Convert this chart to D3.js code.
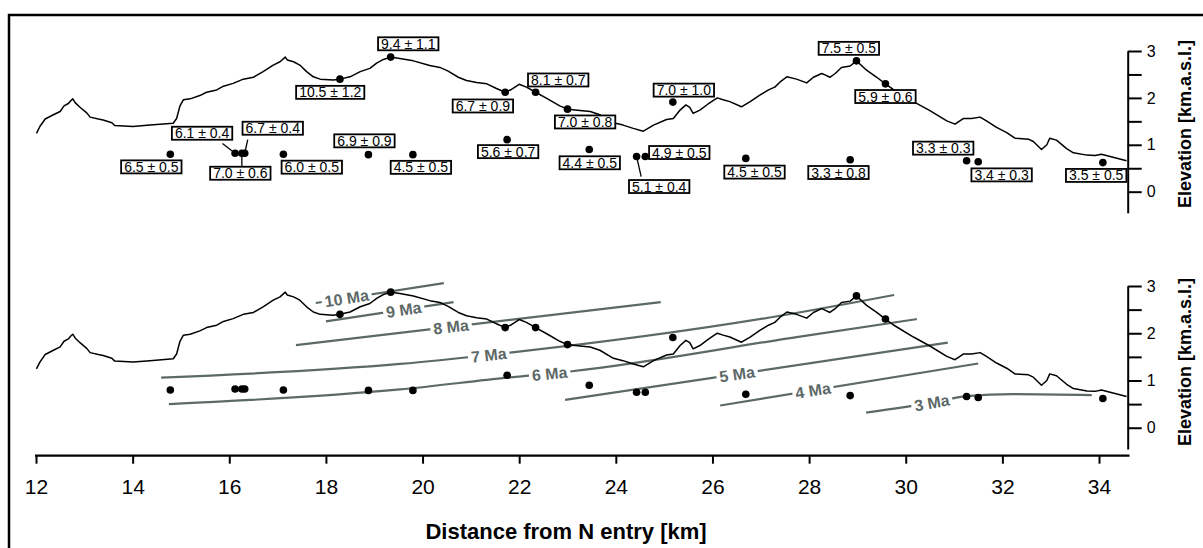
<!DOCTYPE html>
<html><head><meta charset="utf-8">
<script src="https://cdn.jsdelivr.net/npm/d3@7"></script>
<style>
html,body{margin:0;padding:0;background:#fff;}
svg{display:block;font-family:"Liberation Sans", Arial, Helvetica, sans-serif;}
</style></head><body>
<svg id="chart" width="1203" height="548"></svg>
<script>
// ---------- DATA ----------
const profileDist = [12.01,12.08,12.19,12.36,12.50,12.58,12.67,12.72,12.76,12.81,
 12.91,13.05,13.12,13.29,13.39,13.57,13.63,14.01,14.36,14.84,
 14.91,14.98,15.05,15.19,15.39,15.53,15.74,15.88,16.08,16.29,
 16.50,16.70,16.91,17.05,17.16,17.20,17.33,17.46,17.60,17.74,
 17.88,18.15,18.29,18.50,18.71,18.91,19.05,19.19,19.34,19.53,
 19.81,20.15,20.36,20.53,20.74,20.91,21.12,21.33,21.53,21.71,
 21.84,22.00,22.15,22.34,22.57,22.84,23.00,23.26,23.47,23.67,
 23.95,24.15,24.36,24.57,24.78,25.05,25.19,25.33,25.45,25.53,
 25.60,25.74,25.91,26.10,26.22,26.36,26.60,26.78,26.98,27.16,
 27.29,27.40,27.54,27.74,27.95,28.09,28.26,28.33,28.43,28.54,
 28.67,28.85,28.98,29.19,29.40,29.58,29.74,30.16,30.50,30.85,
 31.02,31.19,31.36,31.54,31.67,31.88,32.09,32.26,32.54,32.64,
 32.81,32.92,32.98,33.12,33.33,33.47,33.75,33.92,34.05,34.23,
 34.57];
const profileElev = [1.245,1.39,1.55,1.64,1.71,1.83,1.88,1.94,1.98,1.90,
 1.80,1.68,1.59,1.55,1.53,1.47,1.41,1.39,1.42,1.46,
 1.56,1.83,1.96,1.98,2.05,2.12,2.17,2.25,2.31,2.40,
 2.44,2.56,2.70,2.77,2.87,2.81,2.77,2.70,2.56,2.45,
 2.40,2.38,2.40,2.45,2.56,2.63,2.74,2.82,2.87,2.84,
 2.79,2.69,2.65,2.57,2.44,2.37,2.33,2.30,2.20,2.12,
 2.18,2.29,2.23,2.12,1.99,1.83,1.76,1.73,1.71,1.64,
 1.47,1.42,1.35,1.29,1.42,1.54,1.56,1.74,1.85,1.80,
 1.67,1.74,1.87,2.00,1.96,1.92,1.81,1.92,2.06,2.17,
 2.23,2.34,2.45,2.40,2.32,2.44,2.52,2.49,2.44,2.52,
 2.65,2.68,2.79,2.59,2.44,2.30,2.18,1.92,1.73,1.51,
 1.44,1.56,1.56,1.59,1.51,1.37,1.26,1.14,1.12,1.07,
 0.90,1.00,1.14,1.10,0.92,0.83,0.78,0.77,0.80,0.75,
 0.66];

const sampleDist = [14.78,16.12,16.26,16.32,17.12,18.29,18.88,19.34,19.80,21.71,21.75,22.34,
                    23.00,23.45,24.43,24.61,25.18,26.69,28.85,28.98,29.58,31.26,31.50,34.08];
const sampleElev = [0.80,0.82,0.82,0.82,0.80,2.40,0.79,2.87,0.79,2.12,1.11,2.12,
                    1.76,0.90,0.75,0.75,1.91,0.71,0.68,2.79,2.30,0.66,0.64,0.62];
const sampleAge  = [6.5,6.1,7.0,6.7,6.0,10.5,6.9,9.4,4.5,6.7,5.6,8.1,
                    7.0,4.4,5.1,4.9,7.0,4.5,3.3,7.5,5.9,3.3,3.4,3.5];
const sampleErr  = [0.5,0.4,0.6,0.4,0.5,1.2,0.9,1.1,0.5,0.9,0.7,0.7,
                    0.8,0.5,0.4,0.5,1.0,0.5,0.8,0.5,0.6,0.3,0.3,0.5];

const isoNames   = ["10 Ma","9 Ma","8 Ma","7 Ma","6 Ma","5 Ma","4 Ma","3 Ma"];
const isoDist = [
  [17.79,20.44],
  [18.00,20.64],
  [17.38,24.93],
  [14.59,19.53,21.37,27.40,29.76],
  [14.75,19.53,21.75,23.05,27.81,30.23],
  [22.95,30.87],
  [26.16,31.50],
  [29.18,30.54,31.26,32.22,33.85]
];
const isoElev = [
  [2.64,3.06],
  [2.25,2.66],
  [1.75,2.66],
  [1.06,1.35,1.54,2.37,2.81],
  [0.50,0.81,1.06,1.19,1.93,2.30],
  [0.59,1.80],
  [0.47,1.36],
  [0.32,0.53,0.67,0.71,0.69]
];
const isoLabelAt = [18.43,19.61,20.59,21.37,22.63,26.51,28.08,30.54];

const xTicks = [12,14,16,18,20,22,24,26,28,30,32,34];
const yTicks = [0,0.5,1,1.5,2,2.5,3];

// ---------- LAYOUT (label box offsets in px from sample point) ----------
const labelDx = [-19,-33,-1.5,28,28.4,-9.7,-4,17.6,8,-22.3,1,22.6,
                 17.6,0.5,22.6,34,11,8.7,-11.7,-7.6,0,-23.4,23.4,-6.7];
const labelDy = [12.7,-20,20,-25,13,13.2,-13.8,-13.3,12.7,13.7,12,-12.3,
                 12.8,13.3,30,-4,-12,13.7,12.7,-12.5,12.7,-12.6,13.2,12.8];
const leaderEnd = {1:[-12.6,-9.7], 2:[0,13], 3:[3,-13.7], 14:[4.6,20]};

// ---------- CHART ----------
const svg = d3.select("#chart");
const FONT = '"Liberation Sans", Arial, Helvetica, sans-serif';
const GRAY = "#5d6868";

const x = d3.scaleLinear().domain([12, 34.6]).range([36, 1128]);
const yTop = d3.scaleLinear().domain([-0.45, 3]).range([212.8, 51]);
const yBot = d3.scaleLinear().domain([-0.45, 3]).range([449, 286]);

// frame
svg.append("path").attr("d","M9,548V15H1203").attr("fill","none")
   .attr("stroke","#000").attr("stroke-width",2.5);

const prof = profileDist.map((d,i)=>[d, profileElev[i]]);
const samples = sampleDist.map((d,i)=>({d, v:sampleElev[i], age:sampleAge[i], err:sampleErr[i], i}));

// ---- isochrons (bottom panel) ----
isoNames.forEach((name,i)=>{
  const pts = isoDist[i].map((d,j)=>[d, isoElev[i][j]]);
  const path = svg.append("path").datum(pts)
    .attr("d", d3.line().curve(d3.curveMonotoneX).x(d=>x(d[0])).y(d=>yBot(d[1])))
    .attr("fill","none").attr("stroke",GRAY).attr("stroke-width",2.2);
  const node = path.node(), L = node.getTotalLength();
  const tx = x(isoLabelAt[i]);
  let lo=0, hi=L;
  for(let k=0;k<40;k++){ const m=(lo+hi)/2; if(node.getPointAtLength(m).x<tx) lo=m; else hi=m; }
  const p = node.getPointAtLength(lo);
  const p1 = node.getPointAtLength(Math.max(0,lo-5)), p2 = node.getPointAtLength(Math.min(L,lo+5));
  const ang = Math.atan2(p2.y-p1.y, p2.x-p1.x)*180/Math.PI;
  const g = svg.append("g").attr("transform",`translate(${p.x},${p.y}) rotate(${ang})`);
  const t = g.append("text").text(name).attr("text-anchor","middle").attr("dy","0.36em")
    .attr("font-family",FONT).attr("font-weight","bold").attr("font-size",16).attr("fill",GRAY);
  const w = t.node().getComputedTextLength();
  g.insert("rect","text").attr("x",-w/2-3).attr("y",-8).attr("width",w+6).attr("height",16).attr("fill","#fff");
});

// ---- profiles ----
[yTop, yBot].forEach(y=>{
  svg.append("path").datum(prof)
    .attr("d", d3.line().x(d=>x(d[0])).y(d=>y(d[1])))
    .attr("fill","none").attr("stroke","#000").attr("stroke-width",1.5).attr("stroke-linejoin","round");
});

// ---- leaders & labels (top panel) ----
samples.forEach(s=>{
  if(leaderEnd[s.i]){
    const px=x(s.d), py=yTop(s.v), e=leaderEnd[s.i];
    svg.append("line").attr("x1",px).attr("y1",py).attr("x2",px+e[0]).attr("y2",py+e[1])
      .attr("stroke","#000").attr("stroke-width",1.3);
  }
});
samples.forEach(s=>{
  const cx = x(s.d)+labelDx[s.i], cy = yTop(s.v)+labelDy[s.i];
  const g = svg.append("g").attr("transform",`translate(${cx},${cy})`);
  const t = g.append("text").text(`${s.age.toFixed(1)} \u00b1 ${s.err.toFixed(1)}`)
    .attr("text-anchor","middle").attr("dy","0.36em")
    .attr("font-family",FONT).attr("font-size",14).attr("fill","#000");
  const w = t.node().getComputedTextLength();
  g.insert("rect","text").attr("x",-w/2-3).attr("y",-6.5).attr("width",w+6).attr("height",13)
    .attr("fill","#fff").attr("stroke","#000").attr("stroke-width",1.8);
});

// ---- points ----
[yTop, yBot].forEach(y=>{
  svg.append("g").selectAll("circle").data(samples).join("circle")
    .attr("cx",d=>x(d.d)).attr("cy",d=>y(d.v)).attr("r",3.8).attr("fill","#000");
});

// ---- x axis ----
const gx = svg.append("g").attr("transform","translate(0,455.7)")
  .call(d3.axisBottom(x).tickValues(xTicks).tickSize(8).tickSizeOuter(0).tickFormat(d3.format("d")));
gx.select(".domain").attr("d",`M${x(12)-1},0H${x(34.6)+1.5}`).attr("stroke-width",2.2);
gx.selectAll(".tick line").attr("stroke-width",2);
gx.selectAll(".tick text").attr("y",38.3).attr("dy",0).attr("font-size",21).attr("font-family",FONT).attr("fill","#000");

svg.append("text").text("Distance from N entry [km]").attr("x",566).attr("y",539.3)
  .attr("text-anchor","middle").attr("font-family",FONT).attr("font-weight","bold").attr("font-size",22);

// ---- y axes ----
[[yTop,124],[yBot,362]].forEach(([y,cy])=>{
  const g = svg.append("g").attr("transform","translate(1127.7,0)")
    .call(d3.axisRight(y).tickValues(yTicks).tickSize(14).tickSizeOuter(0)
      .tickFormat(d=>Number.isInteger(d)? d3.format("d")(d) : ""));
  g.select(".domain").attr("stroke-width",2);
  g.selectAll(".tick line").attr("stroke-width",2);
  g.selectAll(".tick text").attr("x",19).attr("font-size",16).attr("font-family",FONT).attr("fill","#000");
  svg.append("text").text("Elevation [km.a.s.l.]")
    .attr("transform",`translate(1190.5,${cy}) rotate(-90)`)
    .attr("text-anchor","middle").attr("font-family",FONT).attr("font-weight","bold").attr("font-size",18);
});
</script>
</body></html>
